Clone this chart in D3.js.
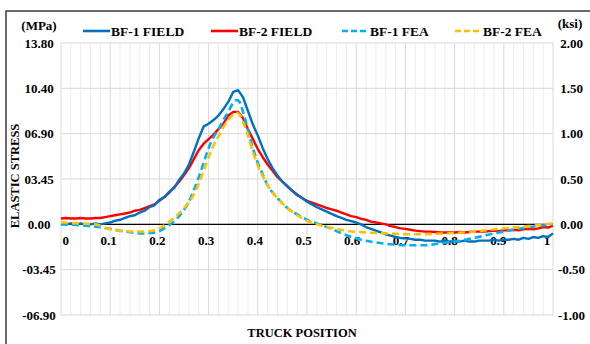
<!DOCTYPE html>
<html>
<head>
<meta charset="utf-8">
<script src="https://cdn.jsdelivr.net/npm/d3@7/dist/d3.min.js"></script>
<style>
  html, body { margin: 0; padding: 0; background: #ffffff; }
  svg { display: block; }
  text { font-family: "Liberation Serif", "Times New Roman", serif; font-weight: bold; fill: #000; }
</style>
</head>
<body>
<svg id="chart" width="590" height="344"></svg>
<script>
// Stress axis ticks (ksi) and their MPa labels on the left side
const ksiTicks = [-1, -0.5, 0, 0.5, 1, 1.5, 2];
const ksiLabels = ["-1.00", "-0.50", "0.00", "0.50", "1.00", "1.50", "2.00"];
const mpaLabels = ["-06.90", "-03.45", "0.00", "03.45", "06.90", "10.40", "13.80"];
const posTicks = [0, 0.1, 0.2, 0.3, 0.4, 0.5, 0.6, 0.7, 0.8, 0.9, 1];
const posLabels = ["0", "0.1", "0.2", "0.3", "0.4", "0.5", "0.6", "0.7", "0.8", "0.9", "1"];

// Field measurements, sampled every 0.01 of truck position (ksi)
const fieldPos = d3.range(0, 101).map(i => i / 100);
const bf1Field = [
  0.01, 0.00, 0.01, 0.00, 0.01, 0.00, 0.00, 0.01, 0.00, 0.01,
  0.02, 0.04, 0.05, 0.07, 0.09, 0.10, 0.13, 0.15, 0.19, 0.21,
  0.27, 0.30, 0.36, 0.40, 0.49, 0.56, 0.66, 0.80, 0.95, 1.08,
  1.11, 1.15, 1.20, 1.27, 1.35, 1.46, 1.48, 1.40, 1.25, 1.10,
  0.98, 0.84, 0.72, 0.62, 0.54, 0.47, 0.42, 0.37, 0.32, 0.29,
  0.25, 0.22, 0.19, 0.165, 0.14, 0.115, 0.09, 0.07, 0.05, 0.035,
  0.02, 0.00, -0.03, -0.05, -0.07, -0.09, -0.11, -0.125, -0.14, -0.15,
  -0.155, -0.16, -0.17, -0.17, -0.18, -0.18, -0.18, -0.19, -0.18, -0.19,
  -0.19, -0.19, -0.18, -0.19, -0.19, -0.18, -0.18, -0.18, -0.17, -0.18,
  -0.17, -0.17, -0.16, -0.17, -0.15, -0.16, -0.14, -0.15, -0.13, -0.14,
  -0.10
];
const bf2Field = [
  0.065, 0.07, 0.065, 0.065, 0.07, 0.065, 0.065, 0.07, 0.07, 0.08,
  0.09, 0.10, 0.11, 0.12, 0.13, 0.15, 0.16, 0.18, 0.20, 0.22,
  0.26, 0.30, 0.35, 0.41, 0.47, 0.54, 0.62, 0.72, 0.82, 0.89,
  0.94, 0.99, 1.05, 1.11, 1.20, 1.24, 1.24, 1.17, 1.05, 0.94,
  0.83, 0.74, 0.66, 0.59, 0.52, 0.47, 0.42, 0.37, 0.33, 0.29,
  0.26, 0.24, 0.22, 0.20, 0.18, 0.165, 0.15, 0.13, 0.11, 0.09,
  0.08, 0.06, 0.05, 0.03, 0.02, 0.01, 0.00, -0.02, -0.03, -0.045,
  -0.05, -0.06, -0.07, -0.075, -0.08, -0.08, -0.085, -0.09, -0.09, -0.09,
  -0.09, -0.085, -0.09, -0.085, -0.08, -0.08, -0.08, -0.075, -0.07, -0.075,
  -0.065, -0.065, -0.06, -0.065, -0.055, -0.05, -0.055, -0.045, -0.03, -0.035,
  -0.015
];

// Finite element predictions (ksi)
const bf1FeaPos = [0, 0.04, 0.06, 0.09, 0.12, 0.15, 0.17, 0.19, 0.205, 0.22, 0.235, 0.25, 0.26, 0.27, 0.28, 0.29, 0.30, 0.31, 0.32, 0.33, 0.34, 0.35, 0.357, 0.363, 0.37, 0.38, 0.39, 0.40, 0.41, 0.42, 0.44, 0.46, 0.48, 0.50, 0.52, 0.55, 0.58, 0.61, 0.64, 0.67, 0.70, 0.74, 0.77, 0.80, 0.84, 0.88, 0.92, 0.96, 1.0];
const bf1Fea = [0.00, -0.01, -0.02, -0.04, -0.07, -0.095, -0.10, -0.09, -0.06, -0.01, 0.06, 0.16, 0.25, 0.38, 0.52, 0.68, 0.84, 0.96, 1.05, 1.15, 1.24, 1.34, 1.37, 1.35, 1.24, 1.04, 0.84, 0.68, 0.55, 0.43, 0.29, 0.18, 0.11, 0.05, 0.01, -0.05, -0.12, -0.17, -0.20, -0.22, -0.23, -0.23, -0.21, -0.19, -0.15, -0.10, -0.06, -0.025, 0.00];
const bf2FeaPos = [0, 0.04, 0.07, 0.09, 0.12, 0.15, 0.17, 0.19, 0.205, 0.215, 0.23, 0.24, 0.255, 0.27, 0.28, 0.29, 0.30, 0.31, 0.32, 0.33, 0.34, 0.35, 0.357, 0.363, 0.37, 0.38, 0.39, 0.40, 0.41, 0.42, 0.44, 0.46, 0.48, 0.50, 0.52, 0.55, 0.58, 0.62, 0.66, 0.72, 0.78, 0.84, 0.90, 0.95, 1.0];
const bf2Fea = [0.02, 0.01, 0.00, -0.04, -0.07, -0.08, -0.08, -0.065, -0.03, 0.01, 0.07, 0.12, 0.21, 0.33, 0.45, 0.59, 0.74, 0.87, 0.97, 1.07, 1.15, 1.21, 1.23, 1.21, 1.13, 0.98, 0.80, 0.65, 0.53, 0.43, 0.29, 0.18, 0.10, 0.04, 0.00, -0.04, -0.07, -0.09, -0.10, -0.11, -0.10, -0.08, -0.045, -0.02, 0.01];

const seriesNames = ["BF-1 FIELD", "BF-2 FIELD", "BF-1 FEA", "BF-2 FEA"];
const seriesColors = ["#0070c0", "#ff0000", "#00b0f0", "#ffc000"];

const svg = d3.select("#chart");

const x = d3.scaleLinear().domain([0, 1]).range([61, 553]);
const xLabel = d3.scaleLinear().domain([0, 1]).range([59.5, 546.5]);
const y = d3.scaleLinear().domain([-1, 2]).range([315, 43]);

// Outer frame
svg.append("path")
  .attr("d", "M6,344 V11 H590")
  .attr("fill", "none").attr("stroke", "#3a3a3a").attr("stroke-width", 1.5);

// Vertical gridlines: minor every 0.02, stronger every 0.1
const grid = svg.append("g");
d3.range(0, 51).forEach(i => {
  const v = i / 50;
  grid.append("line")
    .attr("x1", x(v)).attr("x2", x(v))
    .attr("y1", y(2)).attr("y2", y(-1))
    .attr("stroke", i % 5 === 0 ? "#d9d9d9" : "#ececec")
    .attr("stroke-width", 1);
});
ksiTicks.forEach(v => {
  grid.append("line")
    .attr("x1", x(0)).attr("x2", x(1))
    .attr("y1", y(v)).attr("y2", y(v))
    .attr("stroke", "#d9d9d9").attr("stroke-width", 1);
});

// Zero line
svg.append("line")
  .attr("x1", x(0)).attr("x2", x(1))
  .attr("y1", y(0)).attr("y2", y(0))
  .attr("stroke", "#000").attr("stroke-width", 1.2);

// Left (MPa) and right (ksi) tick labels
const leftAxis = d3.axisLeft(y).tickValues(ksiTicks)
  .tickFormat((d, i) => mpaLabels[i]).tickSize(0).tickPadding(0);
const gl = svg.append("g").attr("transform", "translate(39,0)").call(leftAxis);
gl.select(".domain").remove();
gl.selectAll("text").attr("text-anchor", "middle").attr("x", 0)
  .style("font-family", "Liberation Serif").style("font-weight", "bold").style("font-size", "13px").attr("fill", "#000");

const rightAxis = d3.axisRight(y).tickValues(ksiTicks)
  .tickFormat((d, i) => ksiLabels[i]).tickSize(0).tickPadding(0);
const gr = svg.append("g").attr("transform", "translate(571.5,0)").call(rightAxis);
gr.select(".domain").remove();
gr.selectAll("text").attr("text-anchor", "middle").attr("x", 0)
  .style("font-family", "Liberation Serif").style("font-weight", "bold").style("font-size", "13px").attr("fill", "#000");

// Position labels just under the zero line
const bottomAxis = d3.axisBottom(xLabel).tickValues(posTicks)
  .tickFormat((d, i) => posLabels[i]).tickSize(0).tickPadding(0);
const gb = svg.append("g").attr("transform", "translate(0,236)").call(bottomAxis);
gb.select(".domain").remove();
gb.selectAll("text")
  .style("font-family", "Liberation Serif").style("font-weight", "bold").style("font-size", "13px").attr("fill", "#000");
gb.selectAll(".tick").filter(d => d === 0).select("text").attr("text-anchor", "start").attr("x", x(0) - xLabel(0) + 1);

// Units
svg.append("text").attr("x", 39).attr("y", 30).attr("text-anchor", "middle")
  .style("font-size", "13px").text("(MPa)");
svg.append("text").attr("x", 570).attr("y", 28).attr("text-anchor", "middle")
  .style("font-size", "13px").text("(ksi)");

// Axis titles
svg.append("text").attr("transform", "translate(19,176) rotate(-90)")
  .attr("text-anchor", "middle").style("font-size", "12.5px").text("ELASTIC STRESS");
svg.append("text").attr("x", 302).attr("y", 337).attr("text-anchor", "middle")
  .style("font-size", "12.5px").text("TRUCK POSITION");

// Series lines
const line = d3.line().x(d => x(d[0])).y(d => y(d[1]));
const smooth = d3.line().x(d => x(d[0])).y(d => y(d[1])).curve(d3.curveMonotoneX);

const plot = svg.append("g");
plot.append("path").datum(fieldPos.map((p, i) => [p, bf2Field[i]]))
  .attr("d", line).attr("fill", "none").attr("stroke", seriesColors[1]).attr("stroke-width", 2.4).attr("stroke-linejoin", "round");
plot.append("path").datum(fieldPos.map((p, i) => [p, bf1Field[i]]))
  .attr("d", line).attr("fill", "none").attr("stroke", seriesColors[0]).attr("stroke-width", 2.4).attr("stroke-linejoin", "round");
plot.append("path").datum(bf1FeaPos.map((p, i) => [p, bf1Fea[i]]))
  .attr("d", smooth).attr("fill", "none").attr("stroke", seriesColors[2]).attr("stroke-width", 2.6).attr("stroke-dasharray", "7,4");
plot.append("path").datum(bf2FeaPos.map((p, i) => [p, bf2Fea[i]]))
  .attr("d", smooth).attr("fill", "none").attr("stroke", seriesColors[3]).attr("stroke-width", 2.6).attr("stroke-dasharray", "7,4");

// Legend
const legendX = [83, 211, 342, 455];
const legend = svg.append("g");
seriesNames.forEach((name, i) => {
  legend.append("line")
    .attr("x1", legendX[i]).attr("x2", legendX[i] + 27)
    .attr("y1", 31).attr("y2", 31)
    .attr("stroke", seriesColors[i]).attr("stroke-width", 2.6)
    .attr("stroke-dasharray", i >= 2 ? "6,3" : null);
  legend.append("text")
    .attr("x", legendX[i] + 28).attr("y", 36)
    .style("font-size", "13.5px").text(name);
});
</script>
</body>
</html>
